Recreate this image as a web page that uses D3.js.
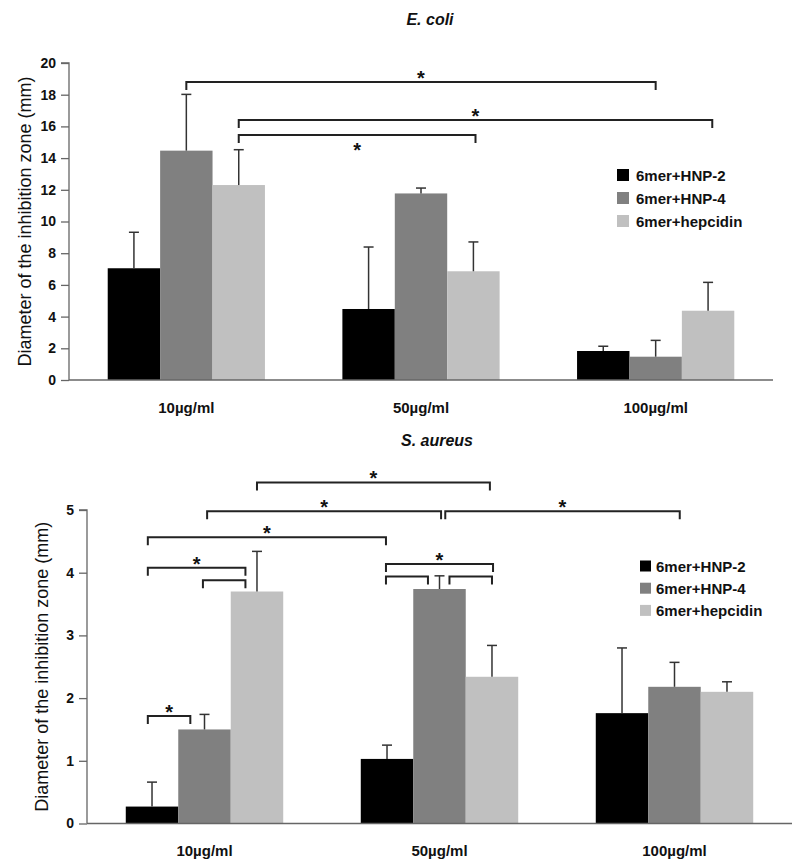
<!DOCTYPE html>
<html>
<head>
<meta charset="utf-8">
<script src="https://cdn.jsdelivr.net/npm/d3@7"></script>
<style>
  html, body { margin: 0; padding: 0; background: #fff; }
  svg { display: block; font-family: "Liberation Sans", Arial, sans-serif; }
</style>
</head>
<body>
<svg id="chart" width="800" height="868"></svg>
<script>
// ---------- data ----------
const categories = ["10µg/ml", "50µg/ml", "100µg/ml"];
const seriesNames = ["6mer+HNP-2", "6mer+HNP-4", "6mer+hepcidin"];
const seriesColors = ["#000000", "#808080", "#c0c0c0"];

// E. coli
const ecoliTicks = [0, 2, 4, 6, 8, 10, 12, 14, 16, 18, 20];
const ecoliHNP2 = [7.05, 4.48, 1.83];
const ecoliHNP2Err = [2.27, 3.91, 0.30];
const ecoliHNP4 = [14.47, 11.77, 1.47];
const ecoliHNP4Err = [3.55, 0.34, 1.03];
const ecoliHep = [12.3, 6.86, 4.37];
const ecoliHepErr = [2.23, 1.85, 1.79];
// brackets: [group, bar position], [group, bar position], y value, star?
const ecoliBrackets = [
  { a: [0, 1.5], b: [2, 1.5], y: 18.8, star: "above" },
  { a: [0, 2.5], b: [2, 2.58], y: 16.4, star: "above" },
  { a: [0, 2.5], b: [1, 2.54], y: 15.46, star: "below" }
];

// S. aureus
const aureusTicks = [0, 1, 2, 3, 4, 5];
const aureusHNP2 = [0.27, 1.03, 1.76];
const aureusHNP2Err = [0.39, 0.22, 1.04];
const aureusHNP4 = [1.50, 3.74, 2.18];
const aureusHNP4Err = [0.24, 0.21, 0.39];
const aureusHep = [3.70, 2.34, 2.10];
const aureusHepErr = [0.64, 0.50, 0.16];
const aureusBrackets = [
  { a: [0, 2.5], b: [1, 2.46], y: 5.44, star: "above" },
  { a: [0, 1.55], b: [1, 1.53], y: 4.98, star: "above" },
  { a: [1, 1.61], b: [2, 1.6], y: 4.98, star: "above" },
  { a: [0, 0.42], b: [1, 0.48], y: 4.565, star: "above" },
  { a: [0, 0.42], b: [0, 2.28], y: 4.08, star: "above" },
  { a: [0, 1.47], b: [0, 2.28], y: 3.88, star: null },
  { a: [0, 0.42], b: [0, 1.23], y: 1.715, star: "above" },
  { a: [1, 0.48], b: [1, 2.52], y: 4.14, star: "above" },
  { a: [1, 0.48], b: [1, 1.28], y: 3.94, star: null },
  { a: [1, 1.69], b: [1, 2.5], y: 3.94, star: null }
];

// ---------- drawing ----------
const svg = d3.select("#chart");

function drawPanel(cfg) {
  const g = svg.append("g");
  const x0 = d3.scaleBand().domain(categories)
    .range([cfg.left, cfg.right]).paddingInner(0.33).paddingOuter(0.165);
  const barW = x0.bandwidth() / seriesNames.length;
  const x1 = d3.scaleBand().domain(seriesNames).range([0, x0.bandwidth()]);
  const y = d3.scaleLinear().domain([0, cfg.ymax]).range([cfg.bottom, cfg.top]);

  const data = [];
  seriesNames.forEach((s, si) => {
    categories.forEach((c, ci) => {
      data.push({ s, si, c, v: cfg.values[si][ci], e: cfg.errors[si][ci] });
    });
  });

  // bars
  g.selectAll("rect.bar").data(data).join("rect")
    .attr("class", "bar")
    .attr("x", d => x0(d.c) + x1(d.s))
    .attr("width", x1.bandwidth())
    .attr("y", d => y(d.v))
    .attr("height", d => y(0) - y(d.v))
    .attr("fill", d => seriesColors[d.si]);

  // error bars
  const eg = g.selectAll("g.err").data(data).join("g").attr("class", "err");
  eg.append("line")
    .attr("x1", d => x0(d.c) + x1(d.s) + x1.bandwidth() / 2)
    .attr("x2", d => x0(d.c) + x1(d.s) + x1.bandwidth() / 2)
    .attr("y1", d => y(d.v))
    .attr("y2", d => y(d.v + d.e))
    .attr("stroke", "#333").attr("stroke-width", 1.5);
  eg.append("line")
    .attr("x1", d => x0(d.c) + x1(d.s) + x1.bandwidth() / 2 - 5)
    .attr("x2", d => x0(d.c) + x1(d.s) + x1.bandwidth() / 2 + 5)
    .attr("y1", d => y(d.v + d.e))
    .attr("y2", d => y(d.v + d.e))
    .attr("stroke", "#333").attr("stroke-width", 1.5);

  // y axis
  const yAxis = d3.axisLeft(y).tickValues(cfg.ticks).tickSize(8).tickPadding(5)
    .tickFormat(d3.format("d"));
  const ya = g.append("g").attr("transform", `translate(${cfg.left},0)`).call(yAxis);
  ya.select(".domain").attr("stroke", "#666").attr("stroke-width", 1.3)
    .attr("d", `M-8,${y(cfg.ymax)}H0V${y(0)}`);
  ya.selectAll(".tick line").attr("stroke", "#666").attr("stroke-width", 1.3);
  ya.selectAll(".tick text").attr("font-size", 14).attr("font-weight", "bold")
    .attr("fill", "#111").attr("font-family", "Liberation Sans, Arial, sans-serif");

  // x baseline
  const xa = g.append("g").attr("transform", `translate(0,${y(0)})`)
    .call(d3.axisBottom(x0).tickSize(0).tickPadding(22));
  xa.select(".domain").attr("stroke", "#666").attr("stroke-width", 1.3)
    .attr("d", `M${cfg.left},0H${cfg.right}`);
  xa.selectAll(".tick text").attr("font-size", 15).attr("font-weight", "bold")
    .attr("fill", "#111").attr("font-family", "Liberation Sans, Arial, sans-serif");

  // y label
  g.append("text")
    .attr("transform", `translate(${cfg.ylabelX},${(y(0) + y(cfg.ymax)) / 2}) rotate(-90)`)
    .attr("text-anchor", "middle").attr("dominant-baseline", "central")
    .attr("font-size", 18).attr("font-weight", "normal").attr("fill", "#111")
    .text("Diameter of the inhibition zone (mm)");

  // title
  g.append("text").attr("x", cfg.titleX).attr("y", cfg.titleY)
    .attr("text-anchor", "middle").attr("font-size", 16).attr("font-style", "italic")
    .attr("font-weight", "bold").attr("fill", "#111").text(cfg.title);

  // brackets
  const bx = p => x0(categories[p[0]]) + p[1] * barW;
  const bg = g.selectAll("g.bracket").data(cfg.brackets).join("g").attr("class", "bracket");
  bg.append("path")
    .attr("d", d => {
      const xa_ = bx(d.a), xb = bx(d.b), yy = y(d.y);
      return `M${xa_},${yy + 8}V${yy}H${xb}V${yy + 8}`;
    })
    .attr("fill", "none").attr("stroke", "#222").attr("stroke-width", 2);
  bg.filter(d => d.star).append("text")
    .attr("x", d => (bx(d.a) + bx(d.b)) / 2)
    .attr("y", d => d.star === "above" ? y(d.y) + 3 : y(d.y) + 22)
    .attr("text-anchor", "middle").attr("font-size", 20).attr("font-weight", "bold")
    .attr("fill", "#111").text("*");

  // legend
  const lg = g.append("g").attr("transform", `translate(${cfg.legendX},${cfg.legendY})`);
  const li = lg.selectAll("g").data(seriesNames).join("g")
    .attr("transform", (d, i) => `translate(0,${i * cfg.legendStep})`);
  li.append("rect").attr("x", 0).attr("y", -cfg.sq / 2).attr("width", cfg.sq).attr("height", cfg.sq)
    .attr("fill", (d, i) => seriesColors[i]);
  li.append("text").attr("x", cfg.legendTextDx).attr("y", 0)
    .attr("dominant-baseline", "central").attr("font-size", 15).attr("font-weight", "bold")
    .attr("fill", "#111").text(d => d);
}

drawPanel({
  title: "E. coli", titleX: 430, titleY: 25,
  left: 69, right: 773, top: 63, bottom: 380, ymax: 20, ticks: ecoliTicks,
  values: [ecoliHNP2, ecoliHNP4, ecoliHep],
  errors: [ecoliHNP2Err, ecoliHNP4Err, ecoliHepErr],
  brackets: ecoliBrackets, ylabelX: 25,
  legendX: 617, legendY: 175, legendStep: 23, sq: 12, legendTextDx: 19
});

drawPanel({
  title: "S. aureus", titleX: 437, titleY: 446,
  left: 87, right: 792, top: 510, bottom: 823.5, ymax: 5, ticks: aureusTicks,
  values: [aureusHNP2, aureusHNP4, aureusHep],
  errors: [aureusHNP2Err, aureusHNP4Err, aureusHepErr],
  brackets: aureusBrackets, ylabelX: 42,
  legendX: 640, legendY: 566, legendStep: 22.2, sq: 11, legendTextDx: 16
});
</script>
</body>
</html>
